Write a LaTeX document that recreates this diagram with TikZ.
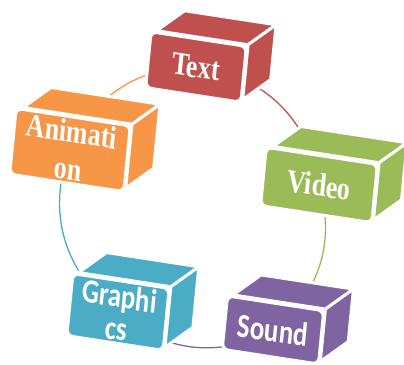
\documentclass[tikz,border=0pt]{standalone}
\usepackage{fontspec}
\setmainfont{Liberation Serif}
\newfontfamily\calibri{Carlito}
\usepackage{tikz}
\usetikzlibrary{calc}
\pgfdeclarelayer{back}
\pgfdeclarelayer{mid}
\pgfsetlayers{back,mid,main}

\definecolor{cred}{HTML}{C0504D}
\definecolor{corange}{HTML}{F79646}
\definecolor{cgreen}{HTML}{9BBB59}
\definecolor{cpurple}{HTML}{8064A2}
\definecolor{cteal}{HTML}{4BACC6}

\tikzset{
  front/.style={draw=white, line width=3pt, fill=#1, rounded corners=6pt, text=white,
    align=center, inner sep=0pt, yscale=1.25, rotate=-7},
  serif/.style={font=\bfseries\fontsize{26}{30}\selectfont},
  sans/.style={font=\calibri\bfseries\fontsize{27}{26}\selectfont},
  face/.style={draw=white, line width=3pt, fill=#1, line join=round},
  link/.style={line width=1.3pt, #1},
}

% top and side of a box, behind its front face
\newcommand\boxsides[2]{%
  \begin{pgfonlayer}{mid}
    \filldraw[face=#2] ($(#1.north west)!0.07!(#1.north east)$) -- (#1.north east)
      -- ++(28,-20) -- ($(#1.north west)!0.07!(#1.north east)+(28,-20)$) -- cycle;
    \filldraw[face=#2] (#1.north east) -- ($(#1.south east)!0.08!(#1.north east)$)
      -- ++(28,-20) -- ($(#1.north east)+(28,-20)$) -- cycle;
  \end{pgfonlayer}}

\begin{document}
\begin{tikzpicture}[x=1pt, y=-1pt]
    \useasboundingbox (0,0) rectangle (404,364);

    \node [front=cred, serif, minimum width=96, minimum height=45] (text) at (196,67) {Text};
    \node [front=cgreen, serif, minimum width=112, minimum height=47] (video) at (319,185) {Video};
    \node [front=cpurple, sans, minimum width=97, minimum height=43] (sound) at (273,330) {Sound};
    \node [front=cteal, sans, minimum width=97, minimum height=50] (graphics) at (118,312) {Graphi\\cs};
    \node [front=corange, serif, minimum width=115, minimum height=53] (animation) at (70,150) {Animati\\on};

    \boxsides{text}{cred}
    \boxsides{video}{cgreen}
    \boxsides{sound}{cpurple}
    \boxsides{graphics}{cteal}
    \boxsides{animation}{corange}

    % cycle links
    \begin{pgfonlayer}{back}
      \draw [link=cred] (text.center) to[bend left=38] (video.center);
      \draw [link=cgreen] (video.center) to[bend left=34] (sound.center);
      \draw [link=cpurple] (sound.center) to[bend left=35] (graphics.center);
      \draw [link=cteal] (graphics.center) to[bend left=38] (animation.center);
      \draw [link=corange] (animation.center) to[bend left=33] (text.center);
    \end{pgfonlayer}
\end{tikzpicture}
\end{document}
